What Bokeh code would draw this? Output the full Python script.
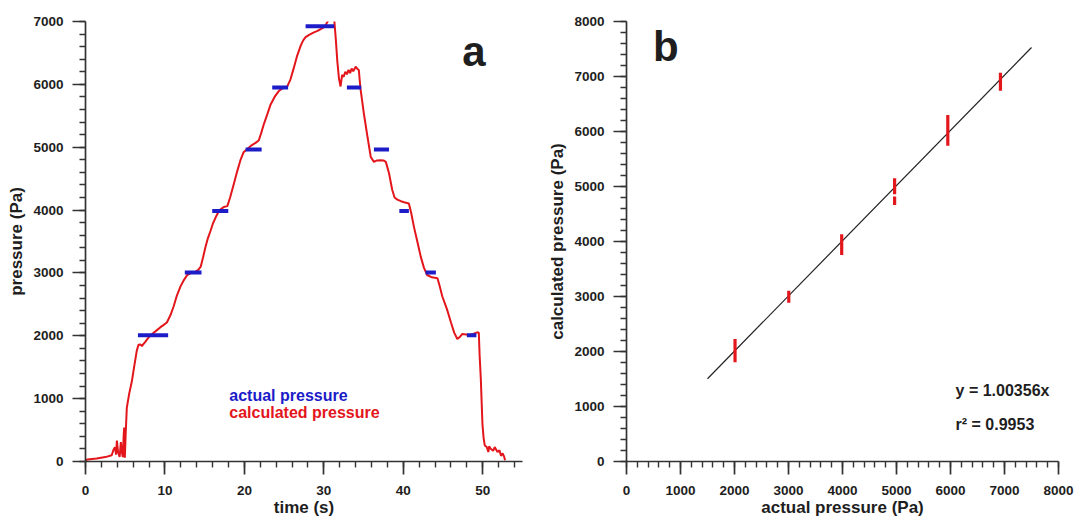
import math
from bokeh.plotting import figure
from bokeh.models import Range1d, SingleIntervalTicker, Label
from bokeh.layouts import row
from bokeh.embed import file_html
from bokeh.resources import INLINE

# ---- panel a: calculated pressure trace (time in s, pressure in Pa) ----
time_s = [0.0, 0.25, 1.4, 2.5, 3.3, 3.5, 3.7, 3.85, 3.95, 4.1, 4.3, 4.45, 4.6, 4.7, 4.8,
          4.87, 4.95, 5.05, 5.2, 5.5, 5.83, 6.05, 6.26, 6.45, 6.67, 6.9, 7.1, 7.3, 7.5,
          7.8, 8.15, 8.8, 9.4, 9.8, 10.24, 10.7, 11.1, 11.5, 11.96, 12.4, 12.8, 13.3,
          13.85, 14.2, 14.5, 14.8, 15.1, 15.4, 15.74, 16.05, 16.37, 16.7, 17.0, 17.4,
          17.85, 18.2, 18.7, 19.1, 19.5, 19.9, 20.4, 20.9, 21.4, 21.8, 22.1, 22.45, 22.9,
          23.3, 23.8, 24.3, 24.8, 25.4, 25.8, 26.2, 26.6, 27.1, 27.4, 27.7, 28.2, 28.75,
          29.2, 29.6, 30.0, 30.3, 30.6, 30.86, 31.1, 31.3, 31.5, 31.7, 31.9, 32.0, 32.1,
          32.3, 32.5, 32.7, 32.9, 33.1, 33.3, 33.5, 33.7, 34.0, 34.2, 34.4, 34.6, 35.05,
          35.5, 35.9, 36.3, 36.7, 37.15, 37.5, 37.8, 38.2, 38.6, 38.9, 39.25, 39.7, 40.1,
          40.7, 41.0, 41.35, 41.8, 42.2, 42.6, 43.0, 43.6, 44.3, 44.6, 44.9, 45.5, 46.0,
          46.4, 46.8, 47.1, 47.4, 47.9, 48.3, 48.8, 49.3, 49.5, 49.6, 49.75, 49.96, 50.1,
          50.25, 50.5, 50.7, 50.8, 51.0, 51.3, 51.5, 51.85, 52.1, 52.3, 52.5, 52.7, 52.8]
calc_pa = [20, 31, 47, 70, 99, 180, 229, 110, 333, 150, 72, 307, 130, 72, 400,
           541, 60, 420, 855, 1080, 1272, 1450, 1612, 1760, 1856, 1860, 1836, 1870, 1898,
           1950, 2003, 2070, 2133, 2170, 2211, 2330, 2470, 2640, 2786, 2890, 2967, 3000,
           3020, 3050, 3099, 3250, 3412, 3550, 3671, 3790, 3881, 3960, 4011, 4050,
           4063, 4200, 4429, 4620, 4793, 4920, 4977, 5030, 5070, 5106, 5220, 5368, 5530,
           5681, 5800, 5889, 5940, 5967, 6080, 6254, 6440, 6620, 6700, 6750, 6790, 6828,
           6850, 6880, 6906, 6960, 7030, 7063, 7050, 7036, 6723, 6358, 6097, 6030, 5967,
           6150, 6120, 6200, 6160, 6230, 6180, 6250, 6210, 6280, 6250, 6228, 5940, 5524,
           5158, 4845, 4767, 4790, 4793, 4790, 4767, 4585, 4324, 4200, 4167, 4141, 4125,
           4105, 3950, 3725, 3480, 3255, 3080, 2967, 2930, 2915, 2780, 2629, 2420, 2211,
           2050, 1950, 1980, 2028, 2020, 2013, 2030, 2055, 2050, 1700, 1324, 595, 380,
           255, 230, 150, 240, 203, 170, 230, 150, 180, 90, 130, 72, 20]

# actual pressure steps
step_start = [6.6, 12.5, 15.95, 20.15, 23.5, 27.7, 32.9, 36.3, 39.5, 42.8, 48.0]
step_end = [10.4, 14.6, 17.97, 22.17, 25.5, 31.3, 34.7, 38.2, 40.7, 44.1, 49.2]
step_pa = [2010, 3005, 3985, 4965, 5950, 6925, 5950, 4965, 3985, 3005, 2010]

# ---- panel b: calculated vs actual ----
err_actual = [2010, 3005, 3985, 4965, 4965, 5950, 6925]
err_low = [1804, 2887, 3755, 4664, 4860, 5742, 6742]
err_high = [2227, 3105, 4131, 4820, 5149, 6300, 7069]
fit_slope = 1.00356
fit_x = [1500, 7500]
fit_y = [fit_slope * v for v in fit_x]

FONT = "Liberation Sans"
RED = "#e3161c"
BLUE = "#1c1cc8"
TXT = "#1e1e1e"


def style_axes(p, xint, yint, xlabel, ylabel):
    for ax, iv, lbl in ((p.xaxis[0], xint, xlabel), (p.yaxis[0], yint, ylabel)):
        ax.ticker = SingleIntervalTicker(interval=iv, num_minor_ticks=5)
        ax.axis_line_color = "#333333"
        ax.axis_line_width = 1.7
        ax.major_tick_line_color = "#333333"
        ax.major_tick_line_width = 1.7
        ax.minor_tick_line_color = "#333333"
        ax.minor_tick_line_width = 1.4
        ax.major_tick_out = 13
        ax.major_tick_in = 0
        ax.minor_tick_out = 6
        ax.minor_tick_in = 0
        ax.major_label_text_font = FONT
        ax.major_label_text_font_style = "bold"
        ax.major_label_text_font_size = "13.5px"
        ax.major_label_text_color = TXT
        ax.axis_label = lbl
        ax.axis_label_text_font = FONT
        ax.axis_label_text_font_style = "bold"
        ax.axis_label_text_font_size = "17px"
        ax.axis_label_text_color = TXT
    p.xaxis[0].major_label_standoff = 11
    p.xaxis[0].axis_label_standoff = 0
    p.yaxis[0].major_label_standoff = 9
    p.yaxis[0].axis_label_standoff = 4
    p.xgrid.visible = False
    p.ygrid.visible = False
    p.outline_line_color = None
    p.background_fill_color = "white"
    p.border_fill_color = "white"


def lab(p, x, y, text, size, color=TXT, align="left", baseline="middle"):
    p.add_layout(Label(x=x, y=y, text=text, text_font=FONT, text_font_style="bold",
                       text_font_size=size, text_color=color, text_align=align,
                       text_baseline=baseline))


# ---------------- panel a ----------------
pa = figure(width=540, height=520, x_range=Range1d(0, 55), y_range=Range1d(0, 7000),
            title=None,
            min_border_left=85, min_border_right=18, min_border_top=14, min_border_bottom=59,
            output_backend="svg", toolbar_location=None)
style_axes(pa, 10, 1000, "time (s)", "pressure (Pa)")
pa.line(time_s, calc_pa, line_color=RED, line_width=2.0)
pa.segment(x0=step_start, y0=step_pa, x1=step_end, y1=step_pa, line_color=BLUE, line_width=4)
lab(pa, 48.9, 6515, "a", "42px", align="center", baseline="alphabetic")
lab(pa, 18.1, 1053, "actual pressure", "16px", color=BLUE)
lab(pa, 18.1, 772, "calculated pressure", "16px", color=RED)

# ---------------- panel b ----------------
pb = figure(width=545, height=520, x_range=Range1d(0, 8000), y_range=Range1d(0, 8000),
            title=None,
            min_border_left=86, min_border_right=27, min_border_top=21, min_border_bottom=59,
            output_backend="svg", toolbar_location=None)
style_axes(pb, 1000, 1000, "actual pressure (Pa)", "calculated pressure (Pa)")
pb.line(fit_x, fit_y, line_color="#222222", line_width=1.2)
pb.segment(x0=err_actual, y0=err_low, x1=err_actual, y1=err_high, line_color=RED, line_width=3.2)
lab(pb, 490, 7538, "b", "42px", align="left", baseline="alphabetic")
lab(pb, 6094, 1296, "y = 1.00356x", "16px")
lab(pb, 6094, 678, "r\u00b2 = 0.9953", "16px")

layout = row(pa, pb)
open("out.html", "w").write(file_html(layout, INLINE))
